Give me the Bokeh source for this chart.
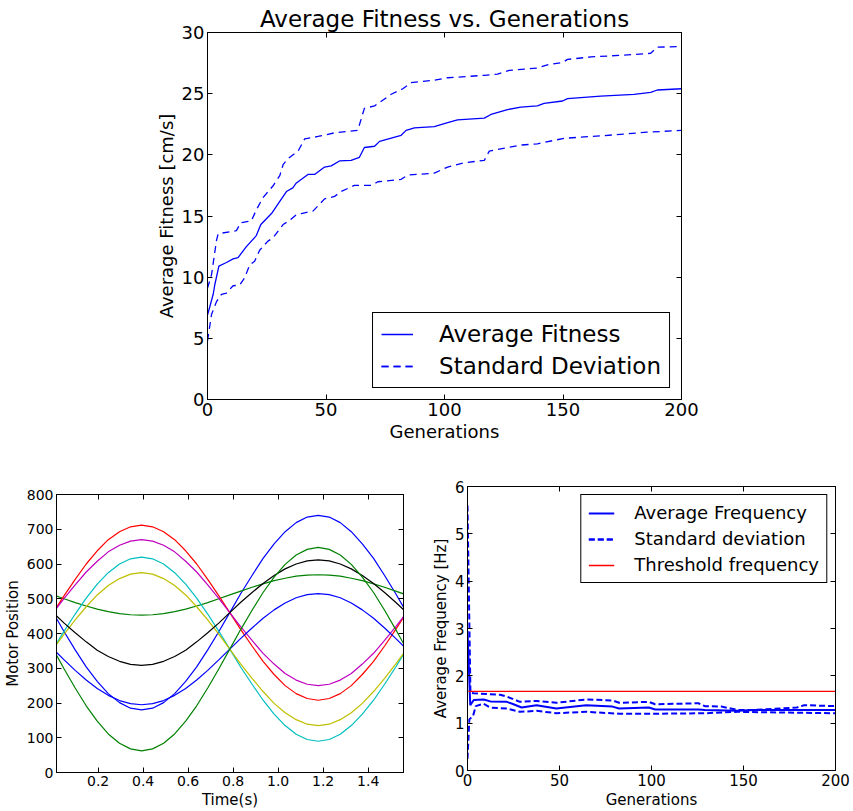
from bokeh.plotting import figure
from bokeh.models import LinearAxis, FixedTicker, Range1d, PrintfTickFormatter
from bokeh.layouts import column, row
from bokeh.embed import file_html
from bokeh.resources import INLINE

FONT = "DejaVu Sans"

# ---------------- top panel: Average Fitness vs. Generations ----------------
FIT_GEN = [0, 1, 2.4, 3.1, 4.8, 8, 10.8, 12.9, 16.4, 20.6, 22.5, 27, 33.3, 36, 37.5,
           42.4, 45.2, 49.4, 52.2, 55.7, 60.6, 64.1, 66.2, 70.5, 72.6, 81.7, 83.8, 87.3,
           95.7, 100.6, 105.5, 116.8, 119.6, 126.6, 132.2, 139.2, 142, 149.8, 151.9,
           165.9, 180, 187, 189.8, 200]
FIT_AVG = [6.9, 7.6, 8.6, 9.4, 10.9, 11.2, 11.5, 11.6, 12.5, 13.4, 14.3, 15.2, 17.0, 17.3,
           17.7, 18.4, 18.4, 19.0, 19.1, 19.5, 19.55, 19.8, 20.6, 20.7, 21.1, 21.6, 22.0,
           22.2, 22.3, 22.6, 22.85, 23.0, 23.3, 23.7, 23.9, 24.0, 24.2, 24.4, 24.6, 24.8,
           24.95, 25.1, 25.3, 25.4]
UP_GEN = [0, 1.7, 3.8, 4.5, 12.2, 14, 18.5, 20.6, 23.4, 27.6, 30.5, 31.9, 34, 38.2, 41,
          46.6, 53.6, 63.4, 66.2, 70.5, 77.5, 82.4, 85.9, 95.7, 101.3, 116.8, 122.4, 127.3,
          139.2, 143.4, 149.8, 151.9, 161.7, 180, 187, 189.8, 200]
UP_VAL = [9.1, 10.2, 13.0, 13.55, 13.8, 14.45, 14.6, 15.5, 16.5, 17.45, 18.3, 19.2, 19.7,
          20.3, 21.3, 21.5, 21.8, 22.0, 23.8, 24.0, 24.95, 25.4, 25.9, 26.1, 26.3, 26.5,
          26.6, 26.9, 27.1, 27.35, 27.55, 27.8, 28.0, 28.2, 28.3, 28.8, 28.85]
LO_GEN = [0, 1.7, 3.8, 5.9, 8, 10.8, 13.6, 15.7, 17.8, 19.9, 22, 25.5, 27.6, 31.9, 34.7,
          37.5, 39.6, 44.5, 49.4, 53.6, 56.4, 62, 69, 71.9, 81.7, 84.5, 95.7, 101.3, 108.3,
          116.8, 118.9, 126.6, 132.2, 139.2, 150.4, 165.9, 185.5, 200]
LO_VAL = [4.8, 6.95, 8.0, 8.6, 8.7, 9.3, 9.35, 9.95, 11.0, 11.3, 12.2, 12.95, 13.2, 14.3,
          14.65, 15.1, 15.2, 15.4, 16.4, 16.6, 17.0, 17.5, 17.5, 17.8, 18.0, 18.35, 18.5,
          19.0, 19.35, 19.55, 20.3, 20.6, 20.8, 20.9, 21.35, 21.55, 21.85, 22.0]
FIT_XTICKS = [0, 50, 100, 150, 200]
FIT_YTICKS = [0, 5, 10, 15, 20, 25, 30]

# ---------------- bottom left: Motor Position vs. Time ----------------
TIME = [0.000, 0.049, 0.098, 0.147, 0.196, 0.245, 0.295, 0.344, 0.393, 0.442, 0.491,
        0.540, 0.589, 0.638, 0.687, 0.736, 0.785, 0.834, 0.884, 0.933, 0.982, 1.031,
        1.080, 1.129, 1.178, 1.227, 1.276, 1.325, 1.374, 1.424, 1.473, 1.522, 1.571]
MOTOR_BLUE_A = [460, 405, 353, 304, 262, 227, 201, 185, 180, 185, 201, 227, 262, 304, 353,
                405, 460, 515, 567, 616, 658, 693, 719, 735, 740, 735, 719, 693, 658, 616,
                567, 515, 460]
MOTOR_GREEN_A = [511, 500, 489, 479, 470, 463, 457, 454, 453, 454, 457, 463, 470, 479, 489,
                 500, 511, 522, 533, 543, 552, 559, 565, 568, 569, 568, 565, 559, 552, 543,
                 533, 522, 511]
MOTOR_RED = [460, 509, 556, 600, 638, 670, 693, 707, 712, 707, 693, 670, 638, 600, 556, 509,
             460, 411, 364, 320, 282, 250, 227, 213, 208, 213, 227, 250, 282, 320, 364, 411,
             460]
MOTOR_CYAN = [355, 407, 456, 502, 542, 575, 600, 615, 620, 615, 600, 575, 542, 502, 456,
              407, 355, 303, 254, 208, 168, 135, 110, 95, 90, 95, 110, 135, 168, 208, 254,
              303, 355]
MOTOR_MAGENTA = [460, 501, 540, 577, 608, 635, 654, 666, 670, 666, 654, 635, 608, 577, 540,
                 501, 460, 419, 380, 343, 312, 285, 266, 254, 250, 254, 266, 285, 312, 343,
                 380, 419, 460]
MOTOR_YELLOW = [355, 398, 439, 477, 511, 538, 558, 571, 575, 571, 558, 538, 511, 477, 439,
                398, 355, 312, 271, 233, 199, 172, 152, 139, 135, 139, 152, 172, 199, 233,
                271, 312, 355]
MOTOR_BLACK = [460, 430, 402, 376, 352, 334, 320, 311, 308, 311, 320, 334, 352, 376, 402,
               430, 460, 490, 518, 544, 567, 586, 600, 609, 612, 609, 600, 586, 567, 544,
               518, 490, 460]
MOTOR_BLUE_B = [355, 324, 294, 266, 242, 222, 207, 198, 195, 198, 207, 222, 242, 266, 294,
                324, 355, 386, 416, 444, 468, 488, 503, 512, 515, 512, 503, 488, 468, 444,
                416, 386, 355]
MOTOR_GREEN_B = [355, 298, 243, 192, 148, 111, 84, 68, 62, 68, 84, 111, 148, 192, 243, 298,
                 355, 412, 467, 518, 562, 599, 626, 642, 648, 642, 626, 599, 562, 518, 467,
                 412, 355]
MOTOR_SERIES = [MOTOR_BLUE_A, MOTOR_GREEN_A, MOTOR_RED, MOTOR_CYAN, MOTOR_MAGENTA,
                MOTOR_YELLOW, MOTOR_BLACK, MOTOR_BLUE_B, MOTOR_GREEN_B]
MOTOR_COLORS = ["#0000ff", "#008000", "#ff0000", "#00bfbf", "#bf00bf", "#bfbf00",
                "#000000", "#0000ff", "#008000"]
MOTOR_XTICKS = [0.2, 0.4, 0.6, 0.8, 1.0, 1.2, 1.4]
MOTOR_YTICKS = [0, 100, 200, 300, 400, 500, 600, 700, 800]

# ---------------- bottom right: Average Frequency ----------------
FQ_GEN = [0, 1.5, 3.4, 8.8, 12.4, 21.4, 25, 29.4, 37.5, 48.3, 64.5, 78.8, 82.4, 98.6, 102,
          125.5, 129, 147, 156, 179, 200]
FQ_AVG = [2.95, 1.38, 1.49, 1.5, 1.46, 1.45, 1.40, 1.33, 1.38, 1.31, 1.38, 1.35, 1.31, 1.33,
          1.29, 1.29, 1.28, 1.26, 1.28, 1.28, 1.28]
FQ_UP_GEN = [0, 1.6, 3.4, 17.8, 21.4, 28.5, 37.5, 48.3, 64.5, 78.8, 82.4, 98.6, 102, 125.5,
             129, 138, 147, 156, 179, 183, 200]
FQ_UP = [5.6, 1.64, 1.63, 1.6, 1.56, 1.45, 1.47, 1.43, 1.5, 1.48, 1.43, 1.45, 1.40, 1.42,
         1.36, 1.35, 1.28, 1.28, 1.33, 1.38, 1.36]
FQ_LO_GEN = [0, 1, 3, 4.5, 8.8, 12.4, 21.4, 28.5, 37.5, 48.3, 64.5, 82.4, 102, 129, 147,
             179, 200]
FQ_LO = [0.25, 1.08, 1.15, 1.36, 1.41, 1.33, 1.31, 1.24, 1.26, 1.21, 1.24, 1.2, 1.2, 1.21,
         1.24, 1.22, 1.21]
THRESH_GEN = [0.5, 200]
THRESH_VAL = [1.67, 1.67]
FQ_XTICKS = [0, 50, 100, 150, 200]
FQ_YTICKS = [0, 1, 2, 3, 4, 5, 6]


def frame_axes(p, xticks, yticks, tick_px, label_px):
    p.xaxis.ticker = FixedTicker(ticks=xticks)
    p.yaxis.ticker = FixedTicker(ticks=yticks)
    for ax in list(p.xaxis) + list(p.yaxis):
        ax.major_tick_in = 5
        ax.major_tick_out = 0
        ax.minor_tick_line_color = None
        ax.axis_line_color = "black"
        ax.major_tick_line_color = "black"
        ax.major_label_text_font = FONT
        ax.major_label_text_font_size = tick_px
        ax.major_label_text_color = "black"
        ax.axis_label_text_font = FONT
        ax.axis_label_text_font_size = label_px
        ax.axis_label_text_font_style = "normal"
        ax.axis_label_text_color = "black"
        ax.major_label_standoff = 3
        ax.axis_label_standoff = 2
    for loc, ticks in (("above", xticks), ("right", yticks)):
        ax = LinearAxis(ticker=FixedTicker(ticks=ticks), major_tick_in=5, major_tick_out=0,
                        minor_tick_line_color=None, major_label_text_font_size="0px",
                        major_label_text_color=None, major_label_standoff=0,
                        axis_line_color="black", major_tick_line_color="black")
        p.add_layout(ax, loc)
    p.xgrid.visible = False
    p.ygrid.visible = False
    p.outline_line_color = "black"
    p.outline_line_alpha = 1
    p.background_fill_color = "white"
    p.border_fill_color = "white"


def style_legend(lg, font_px, margin, padding, spacing, glyph_w, standoff):
    lg.margin = margin
    lg.padding = padding
    lg.spacing = spacing
    lg.glyph_width = glyph_w
    lg.label_standoff = standoff
    lg.label_text_font = FONT
    lg.label_text_font_size = font_px
    lg.label_text_color = "black"
    lg.border_line_color = "black"
    lg.border_line_alpha = 1
    lg.background_fill_alpha = 1


# top figure
p1 = figure(width=845, height=458, output_backend="svg", toolbar_location=None,
            x_range=Range1d(0, 200), y_range=Range1d(0, 30),
            title="Average Fitness vs. Generations",
            x_axis_label="Generations", y_axis_label="Average Fitness [cm/s]",
            min_border_left=207, min_border_right=164, min_border_top=32,
            min_border_bottom=59)
p1.title.text_font = FONT
p1.title.text_font_size = "23px"
p1.title.text_font_style = "normal"
p1.title.text_color = "black"
p1.title.align = "center"
p1.title.standoff = 2
frame_axes(p1, FIT_XTICKS, FIT_YTICKS, "18px", "18px")
p1.line(FIT_GEN, FIT_AVG, line_color="#0000ff", line_width=1.3, legend_label="Average Fitness")
p1.line(UP_GEN, UP_VAL, line_color="#0000ff", line_width=1.3, line_dash="7 5",
        legend_label="Standard Deviation")
p1.line(LO_GEN, LO_VAL, line_color="#0000ff", line_width=1.3, line_dash="7 5",
        legend_label="Standard Deviation")
p1.legend[0].location = "bottom_right"
style_legend(p1.legend[0], "23px", 11, 8, 6, 32, 26)

# bottom-left figure
p2 = figure(width=428, height=353, output_backend="svg", toolbar_location=None,
            x_range=Range1d(0.015, 1.557), y_range=Range1d(0, 800),
            x_axis_label="Time(s)", y_axis_label="Motor Position",
            min_border_left=51, min_border_right=25, min_border_top=36,
            min_border_bottom=38)
frame_axes(p2, MOTOR_XTICKS, MOTOR_YTICKS, "14px", "15px")
for ax in p2.below:
    ax.formatter = PrintfTickFormatter(format="%.1f")
for ys, col in zip(MOTOR_SERIES, MOTOR_COLORS):
    p2.line(TIME, ys, line_color=col, line_width=1.2)

# bottom-right figure
p3 = figure(width=425, height=353, output_backend="svg", toolbar_location=None,
            x_range=Range1d(0, 200), y_range=Range1d(0, 6),
            x_axis_label="Generations", y_axis_label="Average Frequency [Hz]",
            min_border_left=36, min_border_right=18, min_border_top=28,
            min_border_bottom=37)
frame_axes(p3, FQ_XTICKS, FQ_YTICKS, "15px", "15px")
p3.line(FQ_GEN, FQ_AVG, line_color="#0000ff", line_width=2, legend_label="Average Frequency")
p3.line(FQ_UP_GEN, FQ_UP, line_color="#0000ff", line_width=2, line_dash="6 3",
        legend_label="Standard deviation")
p3.line(FQ_LO_GEN, FQ_LO, line_color="#0000ff", line_width=2, line_dash="6 3",
        legend_label="Standard deviation")
p3.line(THRESH_GEN, THRESH_VAL, line_color="#ff0000", line_width=1.3,
        legend_label="Threshold frequency")
p3.legend[0].location = "top_right"
style_legend(p3.legend[0], "18px", 8, 7, 5, 26, 20)

layout = column(p1, row(column(p2), column(p3)))
open("out.html", "w").write(file_html(layout, INLINE))
